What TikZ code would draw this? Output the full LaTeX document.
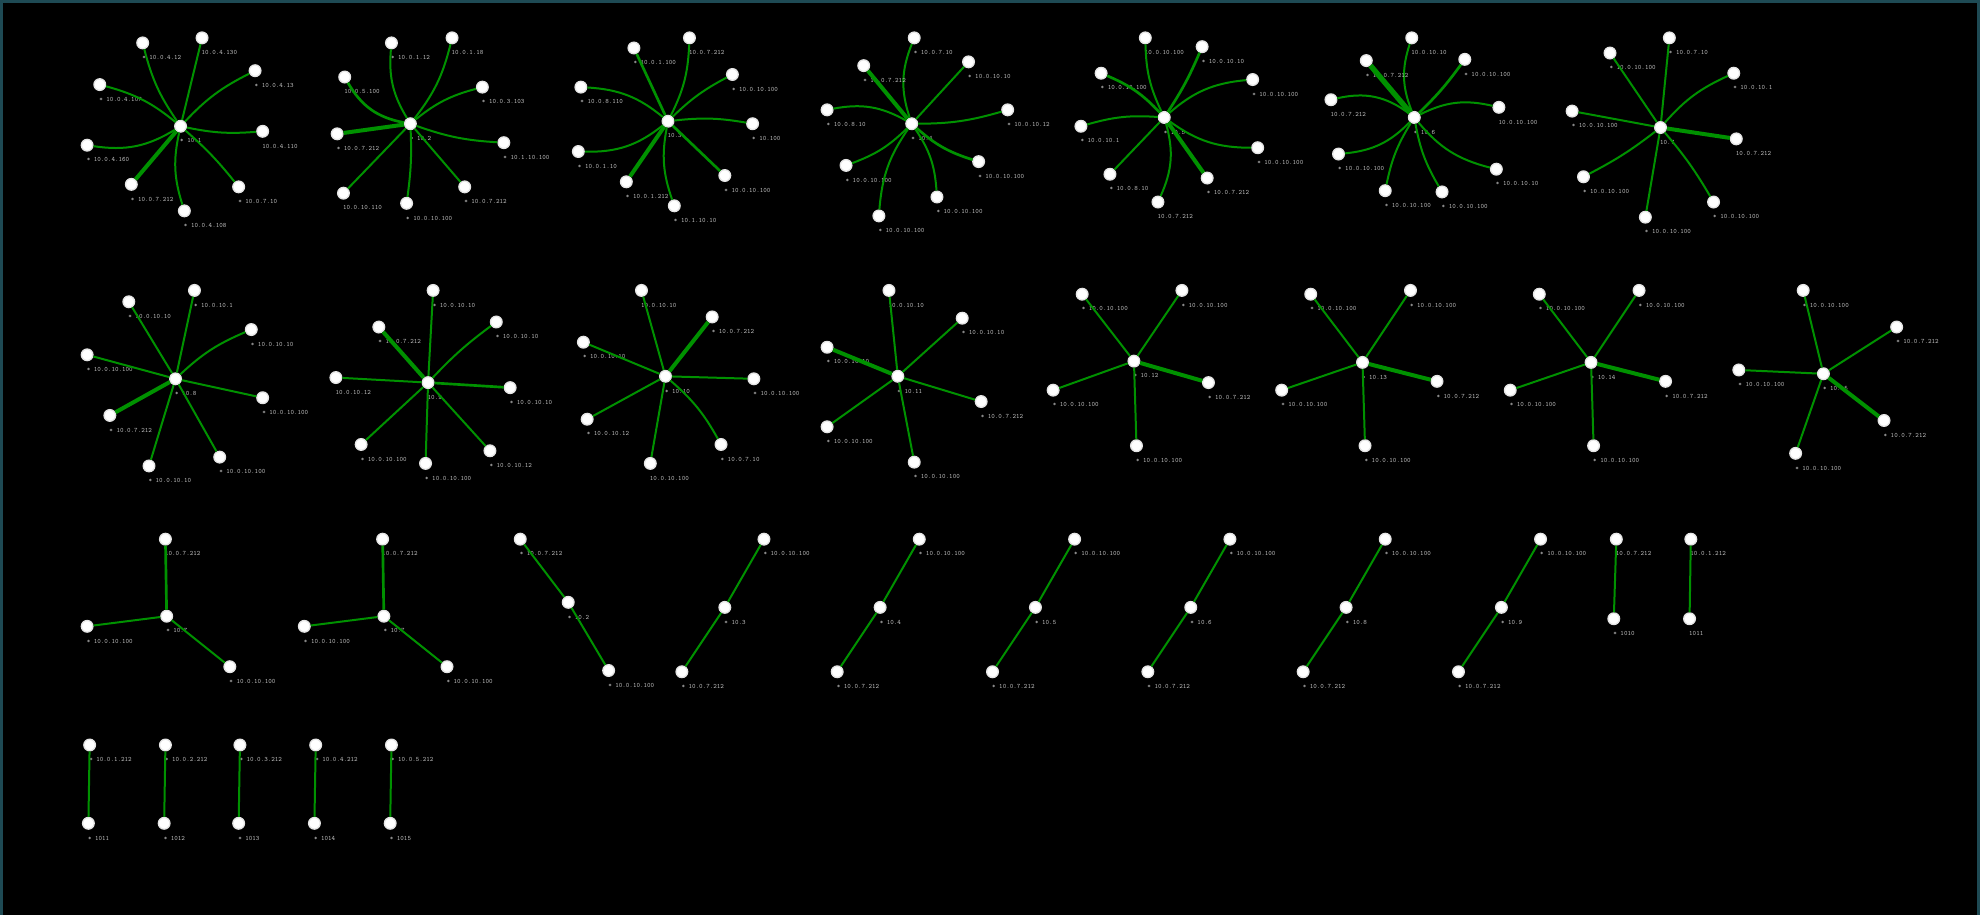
\documentclass[tikz,border=0pt]{standalone}
\usepackage{fontspec}
\usetikzlibrary{positioning}
\definecolor{framecol}{RGB}{30,74,84}
\definecolor{edgegreen}{RGB}{0,145,0}
\definecolor{lblgray}{RGB}{190,190,190}

\tikzset{
  vtx/.style={circle,fill=white,draw=white!80!gray,line width=0.3pt,minimum size=0.092cm,inner sep=0pt},
  lbl/.style={text=lblgray,font=\ttfamily\fontsize{1.5}{2}\selectfont,inner sep=0pt,anchor=west,yshift=-0.065cm,xshift=-0.01cm},
  edge/.style={draw=edgegreen,line width=0.45pt},
}

% one hub with its leaves: name, x, y, hub label, {i/x/y/bend/width/label,...}
\newcommand{\hubgraph}[5]{
  \node[vtx,label={[lbl]below:#4}] (#1) at (#2,#3) {};
  \foreach \i/\x/\y/\bd/\w/\lab in {#5}{
    \node[vtx,label={[lbl]below:\lab}] (#1-\i) at (\x,\y) {};
    \draw[edge,line width=\w pt] (#1) to[bend left=\bd] (#1-\i);
  }
}

\begin{document}
\begin{tikzpicture}[x=0.01cm,y=-0.01cm]
  \fill[framecol] (0,0) rectangle (1568,725);
  \fill[black] (2,2) rectangle (1566,725);
  \useasboundingbox (0,0) rectangle (1568,725);

  % first row
  \hubgraph{ga}{143}{100}{* 10.1}{1/113/34/10/.45/* 10.0.4.12, 2/160/30/0/.45/10.0.4.130, 3/202/56/10/.45/* 10.0.4.13,
    4/79/67/-12/.45/* 10.0.4.107, 5/208/104/-8/.45/10.0.4.110, 6/69/115/20/.45/* 10.0.4.160,
    7/104/146/0/.9/* 10.0.7.212, 8/189/148/5/.45/* 10.0.7.10, 9/146/167/-15/.45/* 10.0.4.108}
  \hubgraph{gb}{325}{98}{* 10.2}{1/310/34/18/.45/* 10.0.1.12, 2/358/30/-12/.45/10.0.1.18, 3/382/69/12/.45/* 10.0.3.103,
    4/273/61/25/.6/10.0.5.100, 5/267/106/0/.9/* 10.0.7.212, 6/399/113/-8/.45/* 10.1.10.100,
    7/272/153/0/.45/10.0.10.110, 8/322/161/5/.45/* 10.0.10.100, 9/368/148/0/.45/* 10.0.7.212}
  \hubgraph{gc}{529}{96}{10.3}{1/502/38/0/.6/* 10.0.1.100, 2/546/30/-12/.45/10.0.7.212, 3/580/59/8/.45/* 10.0.10.100,
    4/460/69/-18/.45/* 10.0.8.110, 5/596/98/8/.45/* 10.100, 6/458/120/20/.45/* 10.0.1.10,
    7/496/144/0/.9/* 10.0.1.212, 8/534/163/-15/.45/* 10.1.10.10, 9/574/139/0/.6/* 10.0.10.100}
  \hubgraph{gd}{722}{98}{* 10.4}{1/724/30/20/.45/* 10.0.7.10, 2/684/52/0/.9/* 10.0.7.212, 3/767/49/0/.45/* 10.0.10.10,
    4/655/87/-20/.45/* 10.0.8.10, 5/798/87/-8/.45/* 10.0.10.12, 6/670/131/12/.45/* 10.0.10.100,
    7/696/171/-15/.45/* 10.0.10.100, 8/775/128/-12/.6/* 10.0.10.100, 9/742/156/15/.45/* 10.0.10.100}
  \hubgraph{ge}{922}{93}{* 10.5}{1/907/30/12/.45/10.0.10.100, 2/952/37/-5/.6/* 10.0.10.10, 3/872/58/-12/.6/* 10.0.10.100,
    4/992/63/18/.45/* 10.0.10.100, 5/856/100/-10/.45/* 10.0.10.1, 6/996/117/-18/.45/* 10.0.10.100,
    7/879/138/0/.45/* 10.0.8.10, 8/956/141/0/.9/* 10.0.7.212, 9/917/160/20/.45/10.0.7.212}
  \hubgraph{gf}{1120}{93}{* 10.6}{1/1118/30/20/.45/10.0.10.10, 2/1082/48/0/1.2/* 10.0.7.212, 3/1160/47/-5/.6/* 10.0.10.100,
    4/1054/79/-25/.45/10.0.7.212, 5/1187/85/20/.45/10.0.10.100, 6/1060/122/20/.45/* 10.0.10.100,
    7/1097/151/-10/.45/* 10.0.10.100, 8/1142/152/-10/.45/* 10.0.10.100, 9/1185/134/-18/.45/* 10.0.10.10}
  \hubgraph{gg}{1315}{101}{10.7}{1/1322/30/0/.45/* 10.0.7.10, 2/1275/42/0/.45/* 10.0.10.100, 3/1373/58/12/.45/* 10.0.10.1,
    4/1245/88/0/.45/* 10.0.10.100, 5/1375/110/0/.9/10.0.7.212, 6/1254/140/5/.45/* 10.0.10.100,
    7/1357/160/5/.45/* 10.0.10.100, 8/1303/172/0/.45/* 10.0.10.100}

  % second row
  \hubgraph{gh}{139}{300}{* 10.8}{1/154/230/0/.45/* 10.0.10.1, 2/102/239/0/.45/* 10.0.10.10, 3/199/261/10/.45/* 10.0.10.10,
    4/69/281/0/.45/* 10.0.10.100, 5/208/315/0/.45/* 10.0.10.100, 6/87/329/0/.9/* 10.0.7.212,
    7/174/362/0/.45/* 10.0.10.100, 8/118/369/0/.45/* 10.0.10.10}
  \hubgraph{gi}{339}{303}{10.9}{1/343/230/0/.45/* 10.0.10.10, 2/300/259/0/.9/* 10.0.7.212, 3/393/255/5/.45/* 10.0.10.10,
    4/266/299/0/.45/10.0.10.12, 5/404/307/0/.6/* 10.0.10.10, 6/286/352/0/.45/* 10.0.10.100,
    7/337/367/0/.45/* 10.0.10.100, 8/388/357/0/.45/* 10.0.10.12}
  \hubgraph{gj}{527}{298}{* 10.10}{1/508/230/0/.45/10.0.10.10, 2/564/251/0/.9/* 10.0.7.212, 3/462/271/0/.45/* 10.0.10.10,
    4/597/300/0/.45/* 10.0.10.100, 5/465/332/0/.45/* 10.0.10.12, 6/571/352/10/.45/* 10.0.7.10,
    7/515/367/0/.45/10.0.10.100}
  \hubgraph{gk}{711}{298}{* 10.11}{1/704/230/0/.45/10.0.10.10, 2/762/252/0/.45/* 10.0.10.10, 3/655/275/0/.9/* 10.0.10.10,
    4/777/318/0/.45/* 10.0.7.212, 5/655/338/0/.45/* 10.0.10.100, 6/724/366/0/.45/* 10.0.10.100}
  \hubgraph{gl}{898}{286}{* 10.12}{1/857/233/0/.45/* 10.0.10.100, 2/936/230/0/.45/* 10.0.10.100, 3/834/309/0/.45/* 10.0.10.100,
    4/957/303/0/.9/* 10.0.7.212, 5/900/353/0/.45/* 10.0.10.100}
  \hubgraph{gm}{1079}{287}{* 10.13}{1/1038/233/0/.45/* 10.0.10.100, 2/1117/230/0/.45/* 10.0.10.100, 3/1015/309/0/.45/* 10.0.10.100,
    4/1138/302/0/.9/* 10.0.7.212, 5/1081/353/0/.45/* 10.0.10.100}
  \hubgraph{gn}{1260}{287}{* 10.14}{1/1219/233/0/.45/* 10.0.10.100, 2/1298/230/0/.45/* 10.0.10.100, 3/1196/309/0/.45/* 10.0.10.100,
    4/1319/302/0/.9/* 10.0.7.212, 5/1262/353/0/.45/* 10.0.10.100}
  \hubgraph{go}{1444}{296}{* 10.15}{1/1428/230/0/.45/* 10.0.10.100, 2/1502/259/0/.45/* 10.0.7.212, 3/1377/293/0/.45/* 10.0.10.100,
    4/1492/333/0/.9/* 10.0.7.212, 5/1422/359/0/.45/* 10.0.10.100}

  % third row
  \hubgraph{gp}{132}{488}{* 10.7}{1/131/427/0/.6/10.0.7.212, 2/69/496/0/.45/* 10.0.10.100, 3/182/528/0/.45/* 10.0.10.100}
  \hubgraph{gq}{304}{488}{* 10.7}{1/303/427/0/.6/10.0.7.212, 2/241/496/0/.45/* 10.0.10.100, 3/354/528/0/.45/* 10.0.10.100}
  \hubgraph{gr}{450}{477}{* 10.2}{1/412/427/0/.45/* 10.0.7.212, 2/482/531/0/.45/* 10.0.10.100}
  \hubgraph{gs}{574}{481}{* 10.3}{1/605/427/0/.45/* 10.0.10.100, 2/540/532/0/.45/* 10.0.7.212}
  \hubgraph{gt}{697}{481}{* 10.4}{1/728/427/0/.45/* 10.0.10.100, 2/663/532/0/.45/* 10.0.7.212}
  \hubgraph{gu}{820}{481}{* 10.5}{1/851/427/0/.45/* 10.0.10.100, 2/786/532/0/.45/* 10.0.7.212}
  \hubgraph{gv}{943}{481}{* 10.6}{1/974/427/0/.45/* 10.0.10.100, 2/909/532/0/.45/* 10.0.7.212}
  \hubgraph{gw}{1066}{481}{* 10.8}{1/1097/427/0/.45/* 10.0.10.100, 2/1032/532/0/.45/* 10.0.7.212}
  \hubgraph{gx}{1189}{481}{* 10.9}{1/1220/427/0/.45/* 10.0.10.100, 2/1155/532/0/.45/* 10.0.7.212}
  \hubgraph{gy}{1280}{427}{10.0.7.212}{1/1278/490/0/.45/* 1010}
  \hubgraph{gz}{1339}{427}{10.0.1.212}{1/1338/490/0/.45/1011}

  % fourth row
  \foreach \k/\x in {1/71,2/131,3/190,4/250,5/310}{
    \node[vtx,label={[lbl]below:* 10.0.\k.212}] (pair\k) at (\x,590) {};
    \node[vtx,label={[lbl]below:* 101\k}] (pairb\k) at (\x-1,652) {};
    \draw[edge] (pair\k) -- (pairb\k);
  }
\end{tikzpicture}
\end{document}
